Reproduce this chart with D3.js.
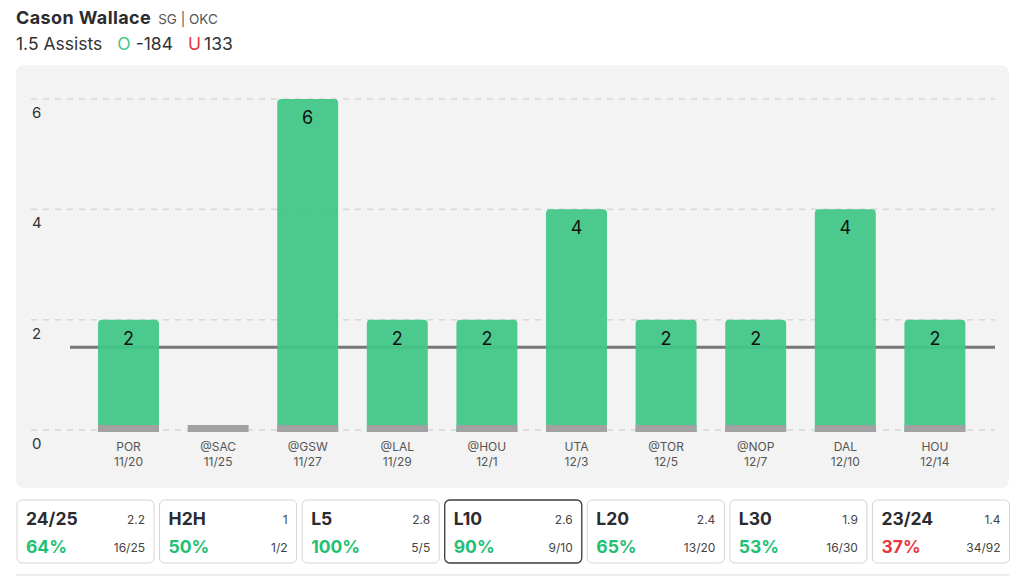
<!DOCTYPE html>
<html>
<head>
<meta charset="utf-8">
<script src="https://cdn.jsdelivr.net/npm/d3@7"></script>
<style>
  body { margin: 0; background: #fff; font-family: Inter, "Noto Sans", sans-serif; }
</style>
</head>
<body>
<script>
var games = ['POR', '@SAC', '@GSW', '@LAL', '@HOU', 'UTA', '@TOR', '@NOP', 'DAL', 'HOU'];
var dates = ['11/20', '11/25', '11/27', '11/29', '12/1', '12/3', '12/5', '12/7', '12/10', '12/14'];
var assists = [2, 0, 6, 2, 2, 4, 2, 2, 4, 2];
var yTicks = [0, 2, 4, 6];
var propLine = 1.5;

var cardTitles = ['24/25', 'H2H', 'L5', 'L10', 'L20', 'L30', '23/24'];
var cardAvg = ['2.2', '1', '2.8', '2.6', '2.4', '1.9', '1.4'];
var cardPct = [64, 50, 100, 90, 65, 53, 37];
var cardFrac = ['16/25', '1/2', '5/5', '9/10', '13/20', '16/30', '34/92'];

var W = 1024, H = 587;
var green = '#42c787', red = '#e8383d';

var svg = d3.select('body').append('svg')
  .attr('width', W)
  .attr('height', H);

// header
var t1 = svg.append('text').attr('x', 16).attr('y', 24);
t1.append('tspan').attr('font-size', 18).attr('font-weight', 700).attr('fill', '#2b2b30')
  .attr('letter-spacing', 0.4).text('Cason Wallace');
t1.append('tspan').attr('dx', 7).attr('font-size', 13.5).attr('fill', '#555').text('SG | OKC');

var t2 = svg.append('text').attr('x', 16).attr('y', 50).attr('font-size', 17.5).attr('fill', '#333');
t2.append('tspan').text('1.5 Assists');
t2.append('tspan').attr('dx', 15).attr('fill', green).text('O');
t2.append('tspan').attr('dx', 5).text('-184');
t2.append('tspan').attr('dx', 15).attr('fill', red).text('U');
t2.append('tspan').attr('dx', 3).text('133');

// chart panel
svg.append('rect')
  .attr('x', 16).attr('y', 65)
  .attr('width', 993).attr('height', 423)
  .attr('rx', 8)
  .attr('fill', '#f3f3f3');

var x = d3.scaleBand()
  .domain(games)
  .range([83.7, 979.7])
  .paddingInner(0.32)
  .paddingOuter(0.16);

var y = d3.scaleLinear()
  .domain([0, 6])
  .range([430, 99]);

// gridlines + y labels
svg.selectAll('.grid')
  .data(yTicks)
  .enter()
    .append('line')
    .attr('x1', 31).attr('x2', 995)
    .attr('y1', function(d) { return y(d); })
    .attr('y2', function(d) { return y(d); })
    .attr('stroke', '#d8d8d8')
    .attr('stroke-width', 1.5)
    .attr('stroke-dasharray', '6,6');

svg.selectAll('.ylab')
  .data(yTicks)
  .enter()
    .append('text')
    .attr('x', 32)
    .attr('y', function(d) { return y(d) + 19; })
    .attr('font-size', 15)
    .attr('fill', '#333')
    .text(function(d) { return d; });

// prop line
svg.append('line')
  .attr('x1', 70).attr('x2', 995)
  .attr('y1', y(propLine)).attr('y2', y(propLine))
  .attr('stroke', '#777')
  .attr('stroke-width', 3);

// bars
var bw = x.bandwidth();
var bars = svg.selectAll('.bar')
  .data(assists.map(function(v, i) { return { v: v, g: games[i], dt: dates[i] }; }))
  .enter().append('g');

bars.filter(function(d) { return d.v > 0; })
  .append('path')
  .attr('fill', green)
  .attr('fill-opacity', 0.95)
  .attr('d', function(d) {
    var x0 = x(d.g), x1 = x0 + bw, top = y(d.v), bot = y(0) + 2, r = 4;
    return 'M' + x0 + ',' + bot + 'V' + (top + r) + 'Q' + x0 + ',' + top + ' ' + (x0 + r) + ',' + top +
      'H' + (x1 - r) + 'Q' + x1 + ',' + top + ' ' + x1 + ',' + (top + r) + 'V' + bot + 'Z';
  });

bars.append('rect')
  .attr('x', function(d) { return x(d.g); })
  .attr('y', y(0) - 5)
  .attr('width', bw)
  .attr('height', 7)
  .attr('fill', '#a2a2a2');

bars.filter(function(d) { return d.v > 0; })
  .append('text')
  .attr('x', function(d) { return x(d.g) + bw / 2; })
  .attr('y', function(d) { return y(d.v) + 25; })
  .attr('text-anchor', 'middle')
  .attr('font-size', 18)
  .attr('fill', '#111')
  .text(function(d) { return d.v; });

bars.append('text')
  .attr('x', function(d) { return x(d.g) + bw / 2; })
  .attr('y', 451)
  .attr('text-anchor', 'middle')
  .attr('font-size', 12)
  .attr('fill', '#555')
  .text(function(d) { return d.g; });

bars.append('text')
  .attr('x', function(d) { return x(d.g) + bw / 2; })
  .attr('y', 466)
  .attr('text-anchor', 'middle')
  .attr('font-size', 12)
  .attr('fill', '#555')
  .text(function(d) { return d.dt; });

// cards
var cx = d3.scaleBand()
  .domain(cardTitles)
  .range([17, 1009.5])
  .paddingInner(0.0386);
var cw = cx.bandwidth();

var cards = svg.selectAll('.card')
  .data(cardTitles)
  .enter().append('g')
  .attr('transform', function(d) { return 'translate(' + cx(d) + ',500)'; });

cards.append('rect')
  .attr('width', cw).attr('height', 63)
  .attr('rx', 5)
  .attr('fill', '#fff')
  .attr('stroke', function(d) { return d === 'L10' ? '#3a3a40' : '#d4d4d4'; })
  .attr('stroke-width', function(d) { return d === 'L10' ? 1.3 : 1; });

cards.append('text')
  .attr('x', 9).attr('y', 25)
  .attr('font-size', 17.5).attr('font-weight', 700).attr('fill', '#2b2b30')
  .text(function(d) { return d; });

cards.append('text')
  .attr('x', cw - 9).attr('y', 24)
  .attr('text-anchor', 'end')
  .attr('font-size', 12).attr('fill', '#444')
  .text(function(d, i) { return cardAvg[i]; });

cards.append('text')
  .attr('x', 9).attr('y', 53)
  .attr('font-size', 17.5).attr('font-weight', 700)
  .attr('fill', function(d, i) { return cardPct[i] >= 50 ? '#1fbf74' : red; })
  .text(function(d, i) { return cardPct[i] + '%'; });

cards.append('text')
  .attr('x', cw - 9).attr('y', 52)
  .attr('text-anchor', 'end')
  .attr('font-size', 12).attr('fill', '#444')
  .text(function(d, i) { return cardFrac[i]; });

svg.append('rect')
  .attr('x', 16).attr('y', 574)
  .attr('width', 993).attr('height', 2)
  .attr('fill', '#ececec');
</script>
</body>
</html>
